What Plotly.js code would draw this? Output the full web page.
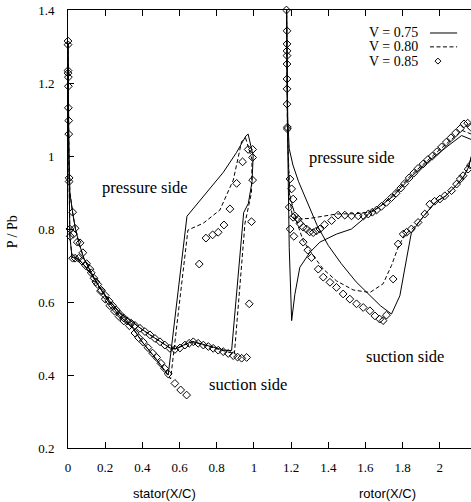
<!DOCTYPE html>
<html>
<head>
<meta charset="utf-8">
<script src="https://cdn.plot.ly/plotly-3.0.1.min.js"></script>
<style>
html,body{margin:0;padding:0;background:#fff;overflow:hidden;}
#chart{width:478px;height:502px;}
</style>
</head>
<body>
<div id="chart"></div>
<script>
// ---------- tick labels ----------
const xTickVals = [0, 0.2, 0.4, 0.6, 0.8, 1, 1.2, 1.4, 1.6, 1.8, 2];
const xTickText = ["0", "0.2", "0.4", "0.6", "0.8", "1", "1.2", "1.4", "1.6", "1.8", "2"];
const yTickVals = [0.2, 0.4, 0.6, 0.8, 1, 1.2, 1.4];
const yTickText = ["0.2", "0.4", "0.6", "0.8", "1", "1.2", "1.4"];

// ---------- series names ----------
const seriesNames = ["V = 0.75", "V = 0.80", "V = 0.85"];

// ---------- V = 0.75 (solid line) ----------
const stator075_x = [0.969, 0.996, 0.99, 0.97, 0.945, 0.88, 0.84, 0.78, 0.72, 0.67, 0.63, 0.58, 0.55, 0.50, 0.44, 0.39, 0.34, 0.28, 0.22, 0.17, 0.12, 0.08, 0.05, 0.022, 0.01, 0.005, 0.002, 0, 0,
  0.002, 0.005, 0.01, 0.025, 0.04, 0.06, 0.085, 0.12, 0.17, 0.22, 0.28, 0.34, 0.40, 0.47, 0.539, 0.64, 0.73, 0.835, 0.907, 0.957, 0.969];
const stator075_y = [1.06, 1.0, 0.93, 0.87, 0.845, 0.467, 0.468, 0.477, 0.486, 0.492, 0.484, 0.472, 0.474, 0.49, 0.51, 0.528, 0.548, 0.57, 0.605, 0.64, 0.68, 0.705, 0.72, 0.722, 0.78, 0.93, 1.1, 1.23, 1.31,
  1.2, 1.0, 0.9, 0.845, 0.80, 0.76, 0.72, 0.685, 0.64, 0.60, 0.56, 0.535, 0.49, 0.447, 0.40, 0.835, 0.89, 0.955, 1.01, 1.055, 1.06];
const rotor075_x = [2.17, 2.117, 2.05, 1.95, 1.85, 1.75, 1.66, 1.615, 1.588, 1.525, 1.444, 1.355, 1.301, 1.247, 1.22, 1.203, 1.19, 1.18, 1.176,
  1.178, 1.182, 1.19, 1.21, 1.24, 1.29, 1.34, 1.40, 1.47, 1.55, 1.62, 1.68, 1.74, 1.785, 1.821, 1.847, 1.875, 1.92, 1.98, 2.03, 2.09, 2.13, 2.155, 2.17];
const rotor075_y = [1.045, 1.056, 1.03, 0.99, 0.945, 0.89, 0.855, 0.841, 0.827, 0.80, 0.786, 0.764, 0.736, 0.695, 0.62, 0.549, 0.75, 1.1, 1.4,
  1.25, 1.1, 1.02, 0.975, 0.93, 0.87, 0.81, 0.755, 0.705, 0.655, 0.62, 0.59, 0.567, 0.617, 0.718, 0.79, 0.81, 0.84, 0.875, 0.89, 0.92, 0.945, 0.97, 1.0];

// ---------- V = 0.80 (dashed line) ----------
const stator080_x = [0.955, 0.99, 0.987, 0.952, 0.895, 0.84, 0.78, 0.72, 0.67, 0.63, 0.58, 0.55, 0.50, 0.44, 0.39, 0.34, 0.28, 0.22, 0.17, 0.12, 0.08, 0.05, 0.022, 0.01, 0.005, 0.002, 0, 0,
  0.002, 0.005, 0.01, 0.025, 0.04, 0.06, 0.085, 0.12, 0.17, 0.22, 0.28, 0.34, 0.40, 0.47, 0.552, 0.645, 0.728, 0.817, 0.889, 0.934, 0.955];
const stator080_y = [1.05, 0.99, 0.90, 0.816, 0.458, 0.466, 0.475, 0.484, 0.491, 0.483, 0.471, 0.473, 0.49, 0.51, 0.528, 0.548, 0.57, 0.605, 0.64, 0.68, 0.705, 0.72, 0.722, 0.78, 0.93, 1.1, 1.23, 1.31,
  1.2, 1.0, 0.9, 0.845, 0.80, 0.76, 0.72, 0.685, 0.64, 0.60, 0.56, 0.535, 0.49, 0.445, 0.389, 0.797, 0.816, 0.852, 0.934, 1.04, 1.05];
const rotor080_x = [2.17, 2.12, 2.05, 1.95, 1.85, 1.75, 1.68, 1.62, 1.55, 1.444, 1.35, 1.30, 1.22, 1.205, 1.19, 1.18, 1.176,
  1.178, 1.185, 1.194, 1.23, 1.265, 1.319, 1.373, 1.444, 1.534, 1.624, 1.695, 1.74, 1.776, 1.812, 1.839, 1.875, 1.92, 1.98, 2.03, 2.09, 2.13, 2.155, 2.17];
const rotor080_y = [1.06, 1.07, 1.04, 0.995, 0.95, 0.895, 0.862, 0.846, 0.842, 0.841, 0.833, 0.829, 0.827, 0.84, 0.9, 1.1, 1.4,
  1.2, 1.0, 0.891, 0.82, 0.768, 0.727, 0.69, 0.658, 0.633, 0.626, 0.65, 0.70, 0.75, 0.786, 0.795, 0.812, 0.84, 0.875, 0.89, 0.92, 0.945, 0.97, 1.0];

// ---------- V = 0.85 (open diamonds) ----------
const stator085_x = [0, 0, 0, 0, 0.002, 0.002, 0.002, 0.004, 0.004, 0.006, 0.006, 0.01, 0.012,
  0.025, 0.038, 0.057, 0.075, 0.095, 0.118, 0.14, 0.16, 0.18, 0.2, 0.22, 0.24, 0.26, 0.28, 0.30, 0.32, 0.34, 0.36, 0.387, 0.414, 0.441, 0.468, 0.495, 0.521, 0.548, 0.575, 0.602, 0.629, 0.652, 0.674, 0.70, 0.728, 0.755, 0.781, 0.808, 0.835, 0.862, 0.889, 0.912, 0.934, 0.961, 0.975, 0.987, 0.993, 0.993, 0.993,
  0.025, 0.038, 0.029, 0.05, 0.065, 0.08, 0.10, 0.125, 0.15, 0.175, 0.20, 0.225, 0.25, 0.275, 0.30, 0.33, 0.36, 0.38, 0.405, 0.43, 0.455, 0.477, 0.50, 0.52, 0.539, 0.575, 0.606, 0.638, 0.706, 0.742, 0.778, 0.808, 0.839, 0.871, 0.907, 0.939, 0.969];
const stator085_y = [1.315, 1.305, 1.234, 1.227, 1.216, 1.191, 1.132, 1.097, 1.06, 0.94, 0.93, 0.80, 0.78,
  0.72, 0.72, 0.72, 0.712, 0.70, 0.69, 0.665, 0.648, 0.632, 0.618, 0.603, 0.59, 0.578, 0.566, 0.556, 0.548, 0.542, 0.536, 0.528, 0.519, 0.51, 0.50, 0.491, 0.482, 0.473, 0.47, 0.474, 0.482, 0.487, 0.491, 0.487, 0.482, 0.478, 0.473, 0.468, 0.464, 0.459, 0.453, 0.449, 0.446, 0.448, 0.595, 0.82, 0.934, 0.996, 1.018,
  0.846, 0.802, 0.786, 0.764, 0.762, 0.735, 0.705, 0.68, 0.655, 0.63, 0.608, 0.59, 0.575, 0.56, 0.548, 0.535, 0.515, 0.502, 0.49, 0.475, 0.46, 0.448, 0.432, 0.418, 0.403, 0.377, 0.359, 0.345, 0.704, 0.775, 0.784, 0.791, 0.811, 0.855, 0.925, 0.984, 1.018];
const rotor085_x = [1.175, 1.178, 1.178, 1.178, 1.178, 1.178, 1.178, 1.178, 1.178, 1.18, 1.18,
  1.194, 1.203, 1.211, 1.211, 1.22, 1.238, 1.247, 1.265, 1.283, 1.30, 1.319, 1.337, 1.355, 1.38, 1.418, 1.453, 1.489, 1.525, 1.561, 1.59, 1.615, 1.637, 1.66, 1.686, 1.713, 1.74, 1.765, 1.79, 1.812, 1.835, 1.86, 1.883, 1.91, 1.935, 1.96, 1.985, 2.01, 2.035, 2.06, 2.085, 2.11, 2.13, 2.15, 2.165,
  1.19, 1.195, 1.215, 1.265, 1.29, 1.31, 1.346, 1.373, 1.409, 1.444, 1.48, 1.516, 1.552, 1.588, 1.624, 1.651, 1.677, 1.695, 1.713, 1.749, 1.776, 1.803, 1.821, 1.847, 1.883, 1.919, 1.946, 1.972, 2.0, 2.027, 2.063, 2.09, 2.11, 2.125, 2.152, 2.165];
const rotor085_y = [1.4, 1.343, 1.307, 1.288, 1.275, 1.252, 1.211, 1.184, 1.142, 1.079, 1.074,
  0.937, 0.91, 0.882, 0.832, 0.836, 0.827, 0.815, 0.805, 0.80, 0.792, 0.79, 0.795, 0.80, 0.812, 0.823, 0.838, 0.838, 0.836, 0.836, 0.836, 0.841, 0.846, 0.852, 0.862, 0.873, 0.886, 0.898, 0.912, 0.925, 0.94, 0.953, 0.966, 0.978, 0.99, 1.0, 1.012, 1.025, 1.038, 1.05, 1.063, 1.075, 1.088, 1.09, 1.08,
  0.86, 0.80, 0.78, 0.764, 0.742, 0.722, 0.69, 0.668, 0.654, 0.64, 0.622, 0.608, 0.595, 0.585, 0.576, 0.562, 0.553, 0.549, 0.564, 0.663, 0.759, 0.786, 0.791, 0.80, 0.818, 0.841, 0.868, 0.876, 0.882, 0.891, 0.905, 0.923, 0.937, 0.946, 0.964, 0.975];

// ---------- annotations text ----------
const regionLabels = ["pressure side", "suction side", "pressure side", "suction side"];
const regionX = [0.414, 0.968, 1.53, 1.813];
const regionY = [0.915, 0.373, 0.995, 0.452];

const serif = "Liberation Serif, Times New Roman, serif";
const sans = "Liberation Sans, Arial, sans-serif";

const solid = {color: "#000", width: 1};
const dashed = {color: "#000", width: 1, dash: "4px,2.5px"};
const diamond = {symbol: "diamond-open", size: 6, color: "#000", line: {width: 1, color: "#000"}};

const traces = [
  {x: stator075_x, y: stator075_y, mode: "lines", line: solid, name: seriesNames[0], showlegend: false},
  {x: rotor075_x, y: rotor075_y, mode: "lines", line: solid, name: seriesNames[0], showlegend: false},
  {x: stator080_x, y: stator080_y, mode: "lines", line: dashed, name: seriesNames[1], showlegend: false},
  {x: rotor080_x, y: rotor080_y, mode: "lines", line: dashed, name: seriesNames[1], showlegend: false},
  {x: stator085_x.concat(rotor085_x), y: stator085_y.concat(rotor085_y), mode: "markers", marker: diamond, name: seriesNames[2], showlegend: false, cliponaxis: false}
];

// legend (text left, sample right) built from series names
const legX0 = 1.608, legY = [1.337, 1.299, 1.26];
const annotations = [];
seriesNames.forEach((n, i) => annotations.push({
  x: legX0, y: legY[i], xref: "x", yref: "y", text: n, showarrow: false,
  xanchor: "left", yanchor: "middle", font: {family: serif, size: 14, color: "#000"}
}));
regionLabels.forEach((t, i) => annotations.push({
  x: regionX[i], y: regionY[i], xref: "x", yref: "y", text: t, showarrow: false,
  xanchor: "center", yanchor: "middle", font: {family: serif, size: 16.5, color: "#000"}
}));
annotations.push({x: 0.235, y: -0.103, xref: "paper", yref: "paper", text: "stator(X/C)", showarrow: false,
  xanchor: "center", yanchor: "middle", font: {family: sans, size: 13, color: "#000"}});
annotations.push({x: 0.78, y: -0.103, xref: "paper", yref: "paper", text: "rotor(X/C)", showarrow: false,
  xanchor: "center", yanchor: "middle", font: {family: sans, size: 13, color: "#000"}});
annotations.push({x: -0.137, y: 0.495, xref: "paper", yref: "paper", text: "P / Pb", showarrow: false, textangle: -90,
  xanchor: "center", yanchor: "middle", font: {family: serif, size: 14, color: "#000"}});

const shapes = [
  {type: "line", xref: "x", yref: "y", x0: 1.947, x1: 2.093, y0: legY[0], y1: legY[0], line: solid},
  {type: "line", xref: "x", yref: "y", x0: 1.947, x1: 2.093, y0: legY[1], y1: legY[1], line: dashed},
  {type: "path", xref: "x", yref: "y",
   path: "M 1.99 " + (legY[2] + 0.0082) + " L 2.006 " + legY[2] + " L 1.99 " + (legY[2] - 0.0082) + " L 1.974 " + legY[2] + " Z",
   line: {color: "#000", width: 1}, fillcolor: "rgba(0,0,0,0)"}
];

const axisCommon = {
  showline: true, linecolor: "#000", linewidth: 1, mirror: "ticks",
  ticks: "inside", ticklen: 6, tickwidth: 1, tickcolor: "#000",
  showgrid: false, zeroline: false,
  tickfont: {family: serif, size: 13, color: "#000"}
};

const layout = {
  width: 478, height: 502,
  margin: {l: 68, r: 1, t: 10, b: 54},
  paper_bgcolor: "#fff", plot_bgcolor: "#fff",
  showlegend: false,
  xaxis: Object.assign({}, axisCommon, {range: [0, 2.2], tickvals: xTickVals, ticktext: xTickText, ticklabelstandoff: 7}),
  yaxis: Object.assign({}, axisCommon, {range: [0.2, 1.4], tickvals: yTickVals, ticktext: yTickText, ticklabelstandoff: 10}),
  annotations: annotations,
  shapes: shapes
};

Plotly.newPlot("chart", traces, layout, {displayModeBar: false, staticPlot: true});
</script>
</body>
</html>
